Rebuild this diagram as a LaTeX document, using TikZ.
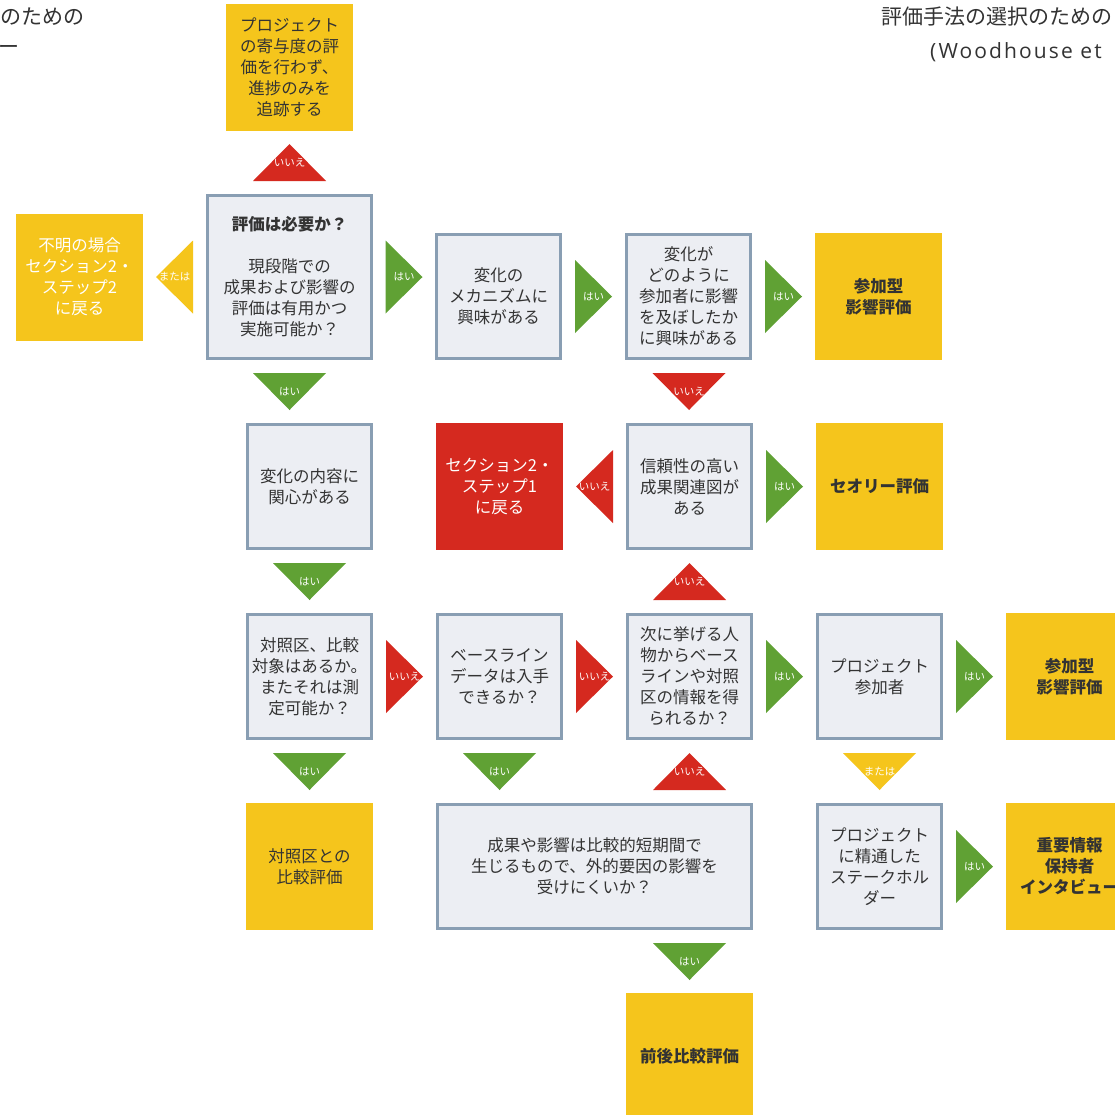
\documentclass[tikz,border=0pt]{standalone}
\usepackage{fontspec}
\setmainfont{Noto Sans CJK JP}
\newfontfamily\latinfont[LetterSpace=10]{Open Sans}
\usepackage{xcolor}
\definecolor{FillGray}{RGB}{236,238,243}
\definecolor{BorderGray}{RGB}{137,158,179}
\definecolor{TextGray}{RGB}{51,51,51}
\definecolor{ResYellow}{RGB}{245,197,28}
\definecolor{NoRed}{RGB}{213,41,31}
\definecolor{YesGreen}{RGB}{96,161,52}
\usetikzlibrary{positioning, calc}
\tikzset{
  % Question box
  qbox/.style={
    rectangle, draw=BorderGray, line width=3pt,
    fill=FillGray, text=TextGray,
    minimum width=124pt, minimum height=124pt,
    align=center, font={\fontsize{16.5}{21}\selectfont},
    inner sep=2pt
  },
  % Result boxes
  res/.style={
    rectangle, fill=ResYellow, text=TextGray,
    minimum width=127pt, minimum height=127pt, outer sep=0pt,
    align=center, font={\fontsize{16.5}{21}\selectfont},
    inner sep=2pt
  },
  res bold/.style={res, font={\fontsize{16.5}{21}\selectfont\bfseries}},
  res white/.style={res, text=white},
  res red/.style={res, fill=NoRed, text=white},
  % Triangle markers
  tri/.style={
    rectangle, inner sep=0pt, outer sep=0pt,
    text=white, font={\fontsize{10.5}{12}\selectfont}
  },
  tri right/.style={tri, minimum width=37pt, minimum height=73pt,
    path picture={\fill[#1] (path picture bounding box.north west)
      -- (path picture bounding box.east)
      -- (path picture bounding box.south west) -- cycle;}},
  tri left/.style={tri, minimum width=37pt, minimum height=73pt,
    path picture={\fill[#1] (path picture bounding box.north east)
      -- (path picture bounding box.west)
      -- (path picture bounding box.south east) -- cycle;}},
  tri down/.style={tri, minimum width=73pt, minimum height=37pt,
    path picture={\fill[#1] (path picture bounding box.north west)
      -- (path picture bounding box.south)
      -- (path picture bounding box.north east) -- cycle;}},
  tri up/.style={tri, minimum width=73pt, minimum height=37pt,
    path picture={\fill[#1] (path picture bounding box.south west)
      -- (path picture bounding box.north)
      -- (path picture bounding box.south east) -- cycle;}},
  % Title text
  ttl/.style={inner sep=0pt, text=TextGray, font={\fontsize{21}{26}\selectfont}},
}

\begin{document}
\begin{tikzpicture}[x=1pt, y=1pt]

  \useasboundingbox (0,0) rectangle (1115,-1114);
  \clip (0,0) rectangle (1115,-1114);
  \fill[white] (0,0) rectangle (1115,-1114);

  %% Titles
  \node[ttl, anchor=east] (ttl1) at (85,-17) {のための};
  \node[ttl, anchor=east] (ttl2) at (20,-50) {ー};
  \node[ttl, anchor=west] (ttl3) at (881,-17) {評価手法の選択のための};
  \node[ttl, anchor=west, font={\latinfont\fontsize{21}{26}\selectfont}]
    (ttl4) at (930,-52) {(Woodhouse et};

  %% Start question
  \node[qbox, minimum width=164pt, minimum height=163pt] (need) at (289.5,-277)
    {\textbf{評価は必要か？}\\[21pt]現段階での\\成果および影響の\\評価は有用かつ\\実施可能か？};
  \node[res white, left=63pt of need] (unknown) {不明の場合\\セクション2・\\ステップ2\\に戻る};
  \node[res, above=63pt of need] (track) {プロジェクト\\の寄与度の評\\価を行わず、\\進捗のみを\\追跡する};

  %% Row 1
  \node[qbox, above right=0pt and 62pt of need.south east] (mech) {変化の\\メカニズムに\\興味がある};
  \node[qbox, right=63pt of mech] (how) {変化が\\どのように\\参加者に影響\\を及ぼしたか\\に興味がある};
  \node[res bold, right=63pt of how] (part1) {参加型\\影響評価};

  %% Row 2
  \node[qbox, below left=63pt and 0pt of need.south east] (what) {変化の内容に\\関心がある};
  \node[res red, right=63pt of what] (back1) {セクション2・\\ステップ1\\に戻る};
  \node[qbox, right=63pt of back1] (toc) {信頼性の高い\\成果関連図が\\ある};
  \node[res bold, right=63pt of toc] (theory) {セオリー評価};

  %% Row 3
  \node[qbox, below=63pt of what] (ctrl) {対照区、比較\\対象はあるか。\\またそれは測\\定可能か？};
  \node[qbox, right=63pt of ctrl] (base) {ベースライン\\データは入手\\できるか？};
  \node[qbox, right=63pt of base] (recall) {次に挙げる人\\物からベース\\ラインや対照\\区の情報を得\\られるか？};
  \node[qbox, right=63pt of recall] (ppl) {プロジェクト\\参加者};
  \node[res bold, right=63pt of ppl] (part2) {参加型\\影響評価};

  %% Row 4
  \node[res, below=63pt of ctrl] (cmp) {対照区との\\比較評価};
  \node[qbox, minimum width=314pt, below right=63pt and 0pt of base.south west] (short)
    {成果や影響は比較的短期間で\\生じるもので、外的要因の影響を\\受けにくいか？};
  \node[qbox, below=63pt of ppl] (stake) {プロジェクト\\に精通した\\ステークホル\\ダー};
  \node[res bold, right=63pt of stake] (kii) {重要情報\\保持者\\インタビュー};

  %% Row 5
  \node[res bold, below left=63pt and 0pt of short.south east] (prepost) {前後比較評価};

  %% Markers
  \node[tri up=NoRed] (n0) at ($(need.north)!.5!(track.south)$) {いいえ};
  \node[tri left=ResYellow] (o0) at ($(need.west)!.5!(unknown.east)$) {または};
  \node[tri right=YesGreen] (y0) at ($(need.east)!.5!(mech.west |- need.east)$) {はい};
  \node[tri down=YesGreen] (y1) at ($(need.south)!.5!(need.south |- what.north)$) {はい};
  \node[tri right=YesGreen] (y2) at ($(mech.east)!.5!(how.west)$) {はい};
  \node[tri right=YesGreen] (y3) at ($(how.east)!.5!(part1.west)$) {はい};
  \node[tri down=NoRed] (n1) at ($(how.south)!.5!(toc.north)$) {いいえ};
  \node[tri left=NoRed] (n2) at ($(back1.east)!.5!(toc.west)$) {いいえ};
  \node[tri right=YesGreen] (y4) at ($(toc.east)!.5!(theory.west)$) {はい};
  \node[tri down=YesGreen] (y5) at ($(what.south)!.5!(ctrl.north)$) {はい};
  \node[tri up=NoRed] (n3) at ($(toc.south)!.5!(recall.north)$) {いいえ};
  \node[tri right=NoRed] (n4) at ($(ctrl.east)!.5!(base.west)$) {いいえ};
  \node[tri right=NoRed] (n5) at ($(base.east)!.5!(recall.west)$) {いいえ};
  \node[tri right=YesGreen] (y6) at ($(recall.east)!.5!(ppl.west)$) {はい};
  \node[tri right=YesGreen] (y7) at ($(ppl.east)!.5!(part2.west)$) {はい};
  \node[tri down=YesGreen] (y8) at ($(ctrl.south)!.5!(cmp.north)$) {はい};
  \node[tri down=YesGreen] (y9) at ($(base.south)!.5!(base.south |- short.north)$) {はい};
  \node[tri up=NoRed] (n6) at ($(recall.south)!.5!(recall.south |- short.north)$) {いいえ};
  \node[tri down=ResYellow] (o1) at ($(ppl.south)!.5!(stake.north)$) {または};
  \node[tri right=YesGreen] (y10) at ($(stake.east)!.5!(kii.west)$) {はい};
  \node[tri down=YesGreen] (y11) at ($(prepost.north |- short.south)!.5!(prepost.north)$) {はい};

\end{tikzpicture}
\end{document}
